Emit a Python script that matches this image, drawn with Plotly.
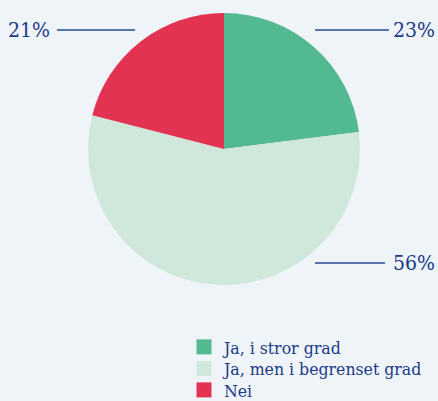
import plotly.graph_objects as go

labels = ["Ja, i stror grad", "Ja, men i begrenset grad", "Nei"]
values = [23, 56, 21]
colors = ["#52b991", "#d0e7dc", "#e33352"]
label_texts = ["23%", "56%", "21%"]

W, H = 438, 401
BG = "#eff4f9"
NAVY = "#1a3a88"
LINE = "#274b98"
FONT = "DejaVu Serif Condensed"

def px(x):
    return x / W

def py(y):
    return 1 - y / H

cx, cy, r = 224, 149, 136

fig = go.Figure(go.Pie(
    labels=labels, values=values, sort=False, direction="clockwise", rotation=0,
    marker=dict(colors=colors, line=dict(width=0)),
    textinfo="none", textposition="none", hoverinfo="label+percent",
    domain=dict(x=[px(cx - r), px(cx + r)], y=[py(cy + r), py(cy - r)]),
    showlegend=False,
))

# legend entries: one dummy square-marker trace per category, each in its own legend row
legend_rows = [347, 368.5, 390]
legend_names = ["legend", "legend2", "legend3"]
layout_legends = {}
for lab, col, lname, ry in zip(labels, colors, legend_names, legend_rows):
    fig.add_trace(go.Scatter(x=[None], y=[None], mode="markers", name=lab,
                             marker=dict(symbol="square", size=15, color=col),
                             legend=lname, showlegend=True, hoverinfo="skip"))
    layout_legends[lname] = dict(x=px(184), y=py(ry), xanchor="left", yanchor="middle",
                                 font=dict(family=FONT, size=17.5, color=NAVY),
                                 bgcolor="rgba(0,0,0,0)", itemsizing="trace", itemwidth=30)

# label placements: (line x0, line x1, y, text x, anchor)
placements = [
    (315, 389, 30, 437, "right"),
    (315, 385, 263, 437, "right"),
    (57, 135, 30, 52, "right"),
]
shapes = []
annotations = []
for txt, (x0, x1, y, tx, anc) in zip(label_texts, placements):
    shapes.append(dict(type="line", xref="paper", yref="paper",
                       x0=px(x0), x1=px(x1), y0=py(y), y1=py(y),
                       line=dict(color=LINE, width=1.5)))
    annotations.append(dict(text=txt, xref="paper", yref="paper", x=px(tx), y=py(y),
                            xanchor=anc, yanchor="middle", showarrow=False,
                            font=dict(family=FONT, size=21, color=NAVY)))

fig.update_layout(
    width=W, height=H, margin=dict(l=0, r=0, t=0, b=0, autoexpand=False),
    paper_bgcolor=BG, plot_bgcolor=BG,
    xaxis=dict(visible=False), yaxis=dict(visible=False),
    shapes=shapes, annotations=annotations,
    **layout_legends,
)
fig.write_html("out.html", config={"displayModeBar": False},
               post_script="document.body.style.margin='0';document.body.style.padding='0';document.body.style.overflow='hidden';")
